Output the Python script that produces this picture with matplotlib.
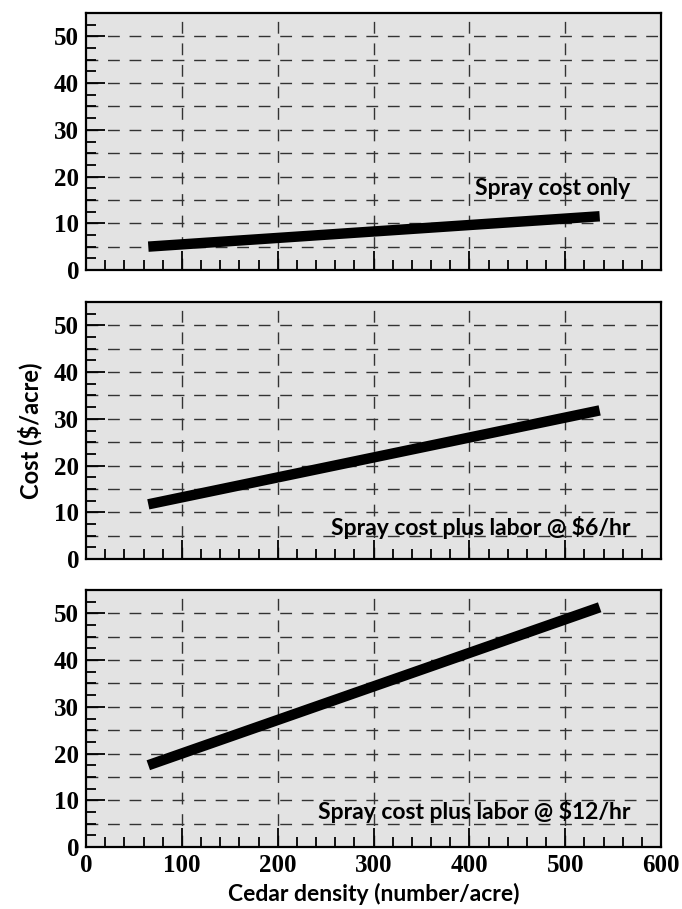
import numpy as np
import matplotlib.pyplot as plt
from matplotlib.ticker import MultipleLocator

# cedar density (number/acre) at the ends of each line
density = [65, 536]
spray_only = [5.0, 11.5]
labor_6 = [11.7, 31.8]
labor_12 = [17.5, 51.3]

series = [spray_only, labor_6, labor_12]
labels = ['Spray cost only', 'Spray cost plus labor @ $6/hr', 'Spray cost plus labor @ $12/hr']
label_pos = [(568, 17.5), (568, 6.8), (568, 7.5)]

xticks = [0, 100, 200, 300, 400, 500, 600]
yticks = [0, 10, 20, 30, 40, 50]

tick_font = 'Liberation Serif'
text_font = 'Lato'

fig = plt.figure(figsize=(6.82, 9.09), dpi=100)
W, H = 682, 909
tops = [13, 302, 590]
ax_h = 257
left, right = 86, 661

axes = []
for i, top in enumerate(tops):
    ax = fig.add_axes([left / W, 1 - (top + ax_h) / H, (right - left) / W, ax_h / H])
    ax.set_facecolor('#e3e3e3')
    ax.set_xlim(0, 600)
    ax.set_ylim(0, 55)
    ax.xaxis.set_major_locator(MultipleLocator(100))
    ax.xaxis.set_minor_locator(MultipleLocator(20))
    ax.yaxis.set_major_locator(MultipleLocator(10))
    ax.yaxis.set_minor_locator(MultipleLocator(2.5))
    ax.set_yticks(yticks)
    # gridlines
    for y in np.arange(5, 55, 5):
        ax.axhline(y, color='#333333', lw=1.0, ls=(0, (8.5, 7)), zorder=1)
    for x in xticks[1:-1]:
        ax.axvline(x, color='#333333', lw=1.0, ls=(0, (8.5, 7)), zorder=1)
    ax.tick_params(which='major', direction='in', length=14, width=1.3, labelsize=18)
    ax.tick_params(which='minor', direction='in', length=7, width=1.3)
    ax.tick_params(axis='y', pad=5)
    ax.tick_params(axis='x', pad=5)
    ax.tick_params(axis='x', which='both', top=False)
    ax.tick_params(axis='y', which='both', right=False)
    for sp in ax.spines.values():
        sp.set_linewidth(1.6)
    for lab in ax.get_yticklabels():
        lab.set_fontfamily(tick_font)
        lab.set_fontweight('bold')
    if i < 2:
        ax.set_xticklabels([])
    else:
        ax.set_xticks(xticks)
        for lab in ax.get_xticklabels():
            lab.set_fontfamily(tick_font)
            lab.set_fontweight('bold')
        ax.set_xlabel('Cedar density (number/acre)', fontsize=16.5, fontweight='bold',
                      family=text_font, labelpad=4)
    ax.plot(density, series[i], color='black', lw=7.5, solid_capstyle='butt', zorder=3)
    ax.text(label_pos[i][0], label_pos[i][1], labels[i], ha='right', va='center',
            fontsize=16.5, fontweight='bold', family=text_font, zorder=4)
    axes.append(ax)

fig.text(30 / W, 1 - 431 / H, 'Cost ($/acre)', rotation=90, ha='center', va='center',
         fontsize=17, fontweight='bold', family=text_font)

fig.savefig('out.png', dpi=100)
